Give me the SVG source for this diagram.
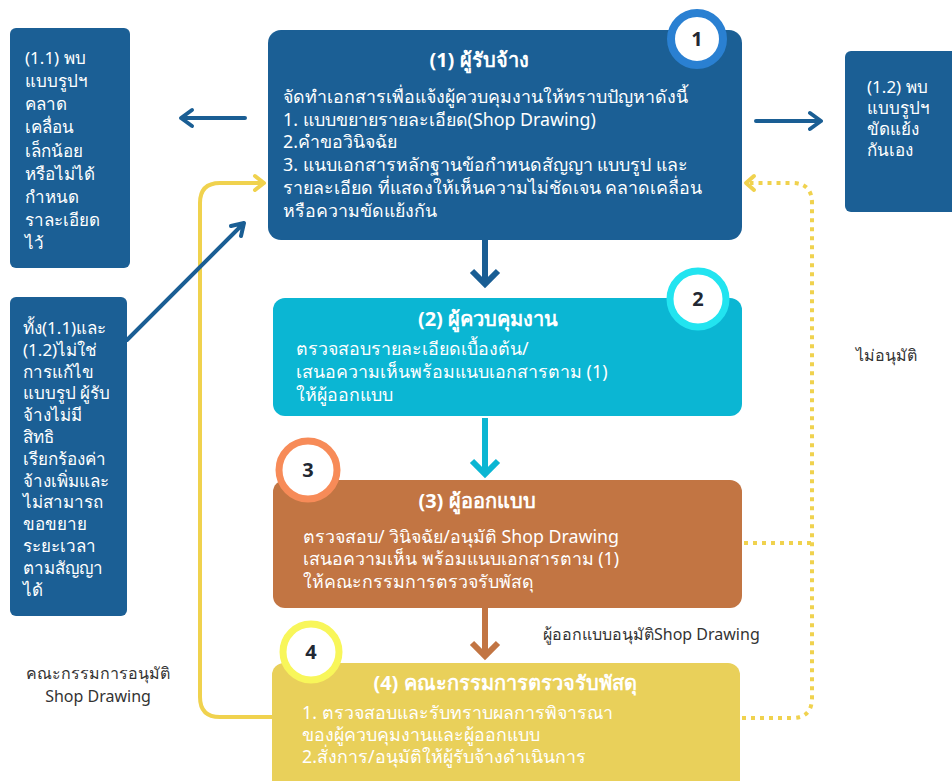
<svg xmlns="http://www.w3.org/2000/svg" width="952" height="781" viewBox="0 0 952 781">
<style>
text{font-family:"Noto Sans","DejaVu Sans",sans-serif;}
.w{fill:#ffffff;font-size:17.8px;}
.s{fill:#ffffff;font-size:17px;}
.t{fill:#ffffff;font-size:20px;font-weight:bold;text-anchor:middle;}
.n{fill:#222833;font-size:20px;font-weight:bold;text-anchor:middle;}
.lab{fill:#333333;font-size:16px;}
.blue{stroke:#1a5e94;stroke-width:4;fill:none;stroke-linecap:round;stroke-linejoin:round;}
.thick{stroke-width:6;fill:none;stroke-linejoin:miter;}
.ysol{stroke:#f0d24e;stroke-width:4;fill:none;stroke-linecap:round;stroke-linejoin:round;}
.ydot{stroke:#f0d24e;stroke-width:4;fill:none;stroke-dasharray:4 5;}
</style>
<rect width="952" height="781" fill="#ffffff"/>
<g id="connectors">
  <path class="ysol" d="M272 717 H220 Q200 717 200 697 V203 Q200 183 220 183 H263"/>
  <path class="ysol" d="M255 176 L264 183 L255 190"/>
  <path class="ydot" d="M744 543 H812"/>
  <path class="ydot" d="M742 718 H792 Q812 718 812 698 V203 Q812 183 792 183 H750"/>
  <path class="ysol" d="M754 176 L746 183 L754 190"/>
  <path class="blue" d="M245 118 H182 M192 110 L181 118 L192 126"/>
  <path class="blue" d="M756 121 H820 M810 113 L821 121 L810 129"/>
  <path class="blue" d="M127 340 L243 224 M231 226 L244 223 L241 236"/>
  <path class="thick" stroke="#1a5e94" d="M485 240 V284 M472 271 L485 284 L498 271"/>
  <path class="thick" stroke="#0bb6d3" d="M485 418 V474 M472 461 L485 474 L498 461"/>
  <path class="thick" stroke="#c27543" d="M485 608 V656 M472 643 L485 656 L498 643"/>
  <text class="lab" x="543" y="640">ผู้ออกแบบอนุมัติShop Drawing</text>
  <text class="lab" x="98" y="679" text-anchor="middle">คณะกรรมการอนุมัติ</text>
  <text class="lab" x="98" y="702" text-anchor="middle">Shop Drawing</text>
  <text class="lab" x="856" y="361">ไม่อนุมัติ</text>
</g>
<g id="node1">
  <rect x="268" y="30" width="474" height="210" rx="13" fill="#1b5f95"/>
  <text class="t" x="479" y="67">(1) ผู้รับจ้าง</text>
  <text class="w" x="283" y="103">จัดทำเอกสารเพื่อแจ้งผู้ควบคุมงานให้ทราบปัญหาดังนี้</text>
  <text class="w" x="283" y="126">1. แบบขยายรายละเอียด(Shop Drawing)</text>
  <text class="w" x="283" y="148">2.คำขอวินิจฉัย</text>
  <text class="w" x="283" y="171">3. แนบเอกสารหลักฐานข้อกำหนดสัญญา แบบรูป และ</text>
  <text class="w" x="283" y="194">รายละเอียด ที่แสดงให้เห็นความไม่ชัดเจน คลาดเคลื่อน</text>
  <text class="w" x="283" y="217">หรือความขัดแย้งกัน</text>
  <circle cx="697" cy="39" r="26" fill="#ffffff" stroke="#2a80d2" stroke-width="8"/>
  <text class="n" x="697" y="46">1</text>
</g>
<g id="node1_1">
  <rect x="10" y="28" width="120" height="240" rx="6" fill="#1b5f95"/>
  <text class="s" x="25" y="64">(1.1) พบ</text>
  <text class="s" x="25" y="87">แบบรูปฯ</text>
  <text class="s" x="25" y="110">คลาด</text>
  <text class="s" x="25" y="133">เคลื่อน</text>
  <text class="s" x="25" y="157">เล็กน้อย</text>
  <text class="s" x="25" y="180">หรือไม่ได้</text>
  <text class="s" x="25" y="203">กำหนด</text>
  <text class="s" x="25" y="226">ราละเอียด</text>
  <text class="s" x="25" y="249">ไว้</text>
</g>
<g id="node1_2">
  <rect x="845" y="51" width="120" height="161" rx="6" fill="#1b5f95"/>
  <text class="s" x="867" y="93">(1.2) พบ</text>
  <text class="s" x="867" y="114">แบบรูปฯ</text>
  <text class="s" x="867" y="135">ขัดแย้ง</text>
  <text class="s" x="867" y="156">กันเอง</text>
</g>
<g id="node_note">
  <rect x="10" y="297" width="117" height="319" rx="6" fill="#1b5f95"/>
  <text class="s" x="23" y="334">ทั้ง(1.1)และ</text>
  <text class="s" x="23" y="356">(1.2)ไม่ใช่</text>
  <text class="s" x="23" y="378">การแก้ไข</text>
  <text class="s" x="23" y="399">แบบรูป ผู้รับ</text>
  <text class="s" x="23" y="421">จ้างไม่มี</text>
  <text class="s" x="23" y="443">สิทธิ</text>
  <text class="s" x="23" y="465">เรียกร้องค่า</text>
  <text class="s" x="23" y="487">จ้างเพิ่มและ</text>
  <text class="s" x="23" y="508">ไม่สามารถ</text>
  <text class="s" x="23" y="530">ขอขยาย</text>
  <text class="s" x="23" y="552">ระยะเวลา</text>
  <text class="s" x="23" y="574">ตามสัญญา</text>
  <text class="s" x="23" y="596">ได้</text>
</g>
<g id="node2">
  <rect x="273" y="298" width="469" height="118" rx="12" fill="#0bb6d3"/>
  <text class="t" x="488" y="326">(2) ผู้ควบคุมงาน</text>
  <text class="w" x="296" y="355">ตรวจสอบรายละเอียดเบื้องต้น/</text>
  <text class="w" x="296" y="378">เสนอความเห็นพร้อมแนบเอกสารตาม (1)</text>
  <text class="w" x="296" y="401">ให้ผู้ออกแบบ</text>
  <circle cx="698" cy="299" r="28" fill="#ffffff" stroke="#22e4f0" stroke-width="7"/>
  <text class="n" x="698" y="306">2</text>
</g>
<g id="node3">
  <rect x="273" y="480" width="469" height="128" rx="12" fill="#c27543"/>
  <text class="t" x="477" y="508">(3) ผู้ออกแบบ</text>
  <text class="w" x="303" y="543">ตรวจสอบ/ วินิจฉัย/อนุมัติ Shop Drawing</text>
  <text class="w" x="303" y="565">เสนอความเห็น พร้อมแนบเอกสารตาม (1)</text>
  <text class="w" x="303" y="588">ให้คณะกรรมการตรวจรับพัสดุ</text>
  <circle cx="308" cy="470" r="29" fill="#ffffff" stroke="#f78b58" stroke-width="7"/>
  <text class="n" x="308" y="477">3</text>
</g>
<g id="node4">
  <rect x="272" y="663" width="468" height="130" rx="12" fill="#e9d05a"/>
  <text class="t" x="505" y="690">(4) คณะกรรมการตรวจรับพัสดุ</text>
  <text class="w" x="302" y="719">1. ตรวจสอบและรับทราบผลการพิจารณา</text>
  <text class="w" x="302" y="741">ของผู้ควบคุมงานและผู้ออกแบบ</text>
  <text class="w" x="302" y="763">2.สั่งการ/อนุมัติให้ผู้รับจ้างดำเนินการ</text>
  <circle cx="311" cy="652" r="28" fill="#ffffff" stroke="#f8f65a" stroke-width="7"/>
  <text class="n" x="311" y="659">4</text>
</g>
</svg>
